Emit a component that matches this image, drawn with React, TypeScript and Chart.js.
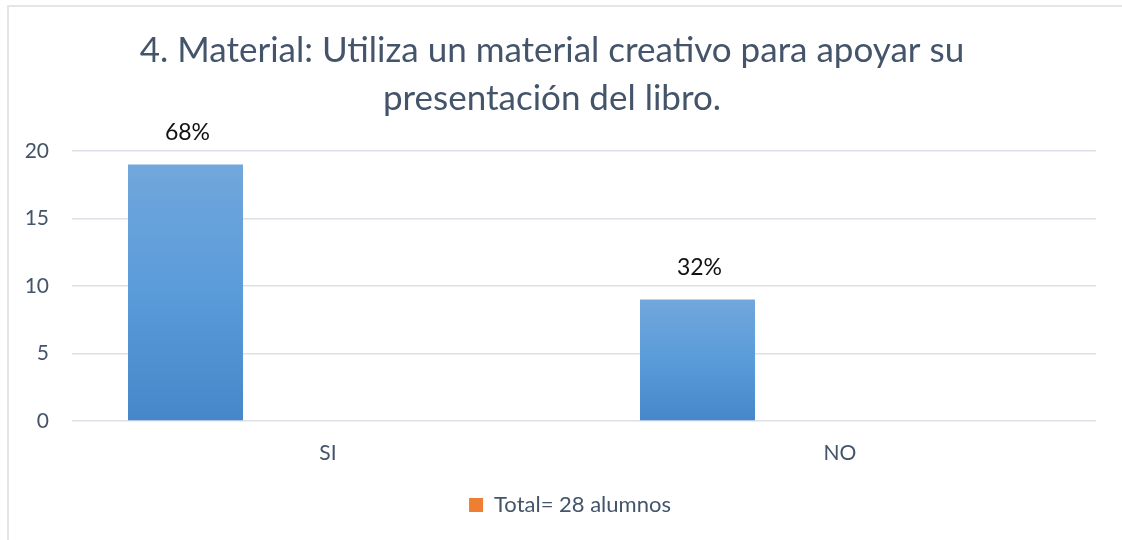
import React, { useEffect, useRef } from 'react';
import { Chart, registerables } from 'chart.js';

Chart.register(...registerables);

const categories = ['SI', 'NO'];
const alumnos = [19, 9];
const porcentajes = ['68%', '32%'];
const totalSerie: (number | null)[] = [null, null];
const extraSerie: (number | null)[] = [null, null];
const titleLines = ['4. Material: Utiliza un material creativo para apoyar su', 'presentación del libro.'];
const legendLabel = 'Total= 28 alumnos';
const yMin = 0;
const yMax = 20;
const yStep = 5;

const FONT = 'Lato, "Noto Sans", sans-serif';
const TEXT = '#44546A';

const barLabels = {
  id: 'barLabels',
  afterDatasetsDraw(chart: any) {
    const ctx = chart.ctx;
    const meta = chart.getDatasetMeta(0);
    ctx.save();
    ctx.font = `23px ${FONT}`;
    ctx.fillStyle = '#111111';
    ctx.textAlign = 'center';
    ctx.textBaseline = 'middle';
    meta.data.forEach((bar: any, i: number) => {
      ctx.fillText(porcentajes[i], bar.x + 2, bar.y - 32);
    });
    ctx.restore();
  },
};

const legendShift = {
  id: 'legendShift',
  afterLayout(chart: any) {
    const lg = chart.legend;
    if (lg) {
      lg.left += 18;
      lg.right += 18;
    }
  },
};

function blueGradient(c: any) {
  const chart = c.chart;
  const y = chart.scales?.y;
  const v = c.raw;
  if (!y || v == null || !chart.chartArea) return '#5B9BD5';
  const top = y.getPixelForValue(v);
  const bottom = y.getPixelForValue(0);
  if (!isFinite(top) || !isFinite(bottom) || top === bottom) return '#5B9BD5';
  const g = chart.ctx.createLinearGradient(0, top, 0, bottom);
  g.addColorStop(0, '#71A7DC');
  g.addColorStop(0.5, '#5A9BDA');
  g.addColorStop(1, '#4587C8');
  return g;
}

export default function App() {
  const ref = useRef<HTMLCanvasElement>(null);
  useEffect(() => {
    if (!ref.current) return;
    const chart = new Chart(ref.current, {
      type: 'bar',
      data: {
        labels: categories,
        datasets: [
          { label: 'Alumnos', data: alumnos, backgroundColor: blueGradient, borderWidth: 0 },
          { label: legendLabel, data: totalSerie, backgroundColor: '#EF7E33', borderWidth: 0 },
          { label: '', data: extraSerie, backgroundColor: '#A5A5A5', borderWidth: 0 },
        ],
      },
      options: {
        animation: false,
        responsive: false,
        maintainAspectRatio: false,
        datasets: { bar: { categoryPercentage: 0.835, barPercentage: 0.807 } },
        layout: { padding: { top: 6, left: 8, right: 26, bottom: 14 } },
        plugins: {
          title: {
            display: true,
            text: titleLines,
            color: TEXT,
            font: { family: FONT, size: 35, weight: 'normal', lineHeight: 1.37 },
            padding: { top: 21, bottom: 28 },
          },
          legend: {
            display: true,
            position: 'bottom',
            labels: {
              color: TEXT,
              font: { family: FONT, size: 22 },
              boxWidth: 14,
              boxHeight: 14,
              padding: 10,
              filter: (item: any) => item.datasetIndex === 1,
            },
          },
          tooltip: { enabled: false },
        },
        scales: {
          x: {
            grid: { display: false, drawTicks: false },
            border: { display: false },
            ticks: { color: TEXT, font: { family: FONT, size: 21 }, padding: 20 },
            afterFit: (s: any) => { s.height = 63; },
          },
          y: {
            min: yMin,
            max: yMax,
            grid: { color: '#DCE0E7', lineWidth: 1.5, drawTicks: false },
            border: { display: false },
            ticks: { stepSize: yStep, color: TEXT, font: { family: FONT, size: 21 }, padding: 23 },
            afterFit: (s: any) => { s.width = 64; },
          },
        },
      },
      plugins: [barLabels, legendShift],
    });
    return () => chart.destroy();
  }, []);

  return (
    <div style={{ position: 'absolute', left: 0, top: 0, width: 1122, height: 540, background: '#fff', overflow: 'hidden' }}>
      <div style={{ position: 'absolute', left: 7, top: 5, width: 1200, height: 600, borderLeft: '2px solid #E3E5E8', borderTop: '2px solid #E3E5E8' }} />
      <canvas ref={ref} width={1122} height={540} style={{ position: 'absolute', left: 0, top: 0, width: 1122, height: 540 }} />
    </div>
  );
}
